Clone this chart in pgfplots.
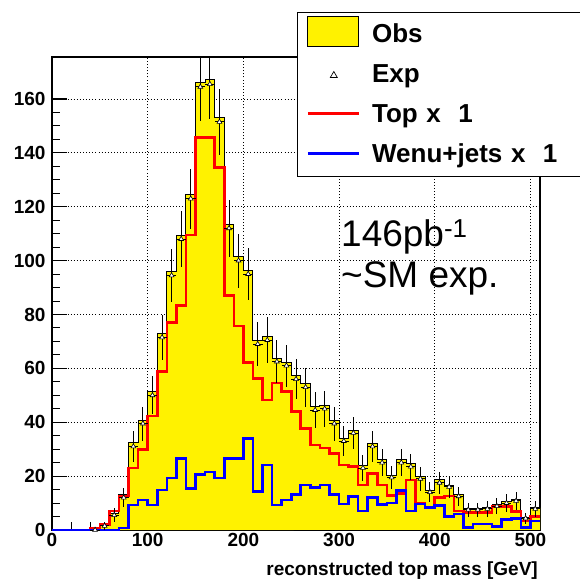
\documentclass[border=0pt]{standalone}
\usepackage{pgfplots}
\pgfplotsset{compat=1.18}
\usepackage{fontspec}
\setmainfont{Liberation Sans}
\pgfplotsset{layers/gridbelow/.define layer set={axis background,axis grid,main,axis ticks,axis lines,axis tick labels,axis descriptions,axis foreground}{}}

\pgfplotstableread{
x y
0 0
10 0
20 0
30 0
40 1
50 2
60 6.2
70 13
80 32.3
90 40.7
100 51.6
110 73
120 95.8
130 109.5
140 124.7
150 166
160 167.3
170 153
180 113.5
190 101.6
200 96.3
210 70.5
220 71.8
230 63.7
240 62.1
250 57.3
260 54.4
270 45.8
280 46.2
290 40.5
300 34
310 37.1
320 23.8
330 32.2
340 26
350 20.4
360 26.2
370 24.7
380 19.9
390 14.6
400 18.6
410 16.7
420 13
430 7.8
440 8
450 8.3
460 9.3
470 10.5
480 11.4
490 4.7
500 8.3
510 8.3
}\obstab

\pgfplotstableread{
x y
0 0
10 0
20 0
30 0
40 0.7
50 2
60 7
70 12.6
80 23
90 29.8
100 42.3
110 58.8
120 77
130 83.3
140 109.5
150 145.8
160 145.8
170 134.6
180 87
190 75.7
200 62.2
210 56.3
220 48.3
230 54.6
240 51.4
250 43.9
260 37.7
270 31.5
280 30.5
290 28.5
300 24.2
310 23.5
320 16.7
330 21
340 16.7
350 12.7
360 13.5
370 18.6
380 10
390 8.5
400 12
410 12.6
420 7
430 6.4
440 6.4
450 6.4
460 8.7
470 8.7
480 6.8
490 3.3
500 5
510 5
}\toptab

\pgfplotstableread{
x y
0 0
10 0
20 0
30 0
40 0
50 0
60 0
70 0.7
80 9.3
90 11.1
100 9.3
110 14.8
120 19.3
130 26.6
140 15.5
150 20.5
160 21.5
170 19.3
180 26.6
190 26.6
200 34
210 14.3
220 24.1
230 9.3
240 11.1
250 13.2
260 16.7
270 15.8
280 16.7
290 13.2
300 9.7
310 12.4
320 7.1
330 12.1
340 9.5
350 10
360 14.7
370 7
380 9.6
390 8.3
400 9
410 5
420 6
430 1
440 2.2
450 2.2
460 1.2
470 4
480 4.3
490 1
500 3.4
510 3.4
}\wenutab

\pgfplotstableread{
x y e
45 0 1
55 1.5 1.4
65 5.5 2.5
75 12 3.5
85 31 5.6
95 39.5 6.3
105 50 7.1
115 71.5 8.5
125 94.5 9.8
135 108 10.4
145 123 11.1
155 164.5 12.8
165 165.5 12.9
175 151.5 12.3
185 112 10.6
195 100 10
205 95 9.7
215 69 8.3
225 70.5 8.4
235 62.5 7.9
245 61 7.8
255 56 7.5
265 53 7.3
275 44.5 6.7
285 45 6.7
295 39.5 6.3
305 33 5.7
315 36 6
325 23 4.8
335 31 5.6
345 25 5
355 19.5 4.4
365 25 5
375 23.5 4.9
385 19 4.4
395 14 3.7
405 17.5 4.2
415 16 4
425 12.5 3.5
435 7.5 2.7
445 7.5 2.7
455 7.8 2.8
465 8.8 3
475 10 3.2
485 10.8 3.3
495 4.3 2.1
505 7.8 2.8
}\exptab

\begin{document}
\begin{tikzpicture}
\begin{axis}[
  set layers=gridbelow,
  at={(52pt,48pt)}, anchor=south west,
  width=488pt, height=473pt, scale only axis,
  xmin=0, xmax=510, ymin=0, ymax=175.6,
  xtick={0,100,...,500}, ytick={0,20,...,160},
  minor x tick num=4, minor y tick num=3,
  tick pos=left, tick align=inside,
  major tick length=15pt, minor tick length=8pt,
  major tick style={black, line width=1.1pt},
  minor tick style={black, line width=1pt},
  axis line style={line width=1.3pt},
  grid=major, major grid style={black, line width=0.9pt, dash pattern=on 0.9pt off 2.2pt},
  /pgf/number format/assume math mode=true,
  ticklabel style={font=\fontsize{19}{22}\selectfont\bfseries},
  yticklabel style={xshift=-3pt},
  xlabel={reconstructed top mass [GeV]},
  xlabel style={at={(axis description cs:1,0)}, anchor=base east, yshift=-45pt, xshift=-2pt, inner sep=0pt, font=\fontsize{19}{22}\selectfont\bfseries},
  legend cell align=left,
  legend style={at={(axis description cs:0,1)}, anchor=north west, xshift=245pt, yshift=45pt,
    draw=black, line width=1pt, fill=white, inner xsep=9pt, inner ysep=2pt,
    column sep=12pt, row sep=0pt,
    nodes={inner sep=0pt, text height=28pt, text depth=12pt, text width=215pt, align=left, font=\fontsize{26}{30}\selectfont\bfseries}},
]
\addplot[const plot, fill=yellow, draw=black, line width=1pt, forget plot] table[x=x,y=y] {\obstab} \closedcycle;
\addplot[const plot, red, line width=2.6pt, forget plot] table[x=x,y=y] {\toptab};
\addplot[const plot, blue, line width=2.6pt, forget plot] table[x=x,y=y] {\wenutab};
\addplot[only marks, mark=triangle*, mark size=2.8pt, mark options={fill=white, draw=black, line width=0.6pt}, forget plot,
  error bars/.cd, y dir=both, y explicit, x dir=both, x fixed=5, error mark=none,
  error bar style={black, line width=1pt}] table[x=x,y=y,y error=e] {\exptab};

\addlegendimage{legend image code/.code={\draw[fill=yellow, draw=black, line width=0.8pt] (0pt,-12pt) rectangle (51pt,18pt);}}
\addlegendentry{Obs}
\addlegendimage{legend image code/.code={\draw[fill=white, draw=black, line width=0.7pt] (22.5pt,-3pt) -- (29.5pt,-3pt) -- (26pt,3pt) -- cycle;}}
\addlegendentry{Exp}
\addlegendimage{legend image code/.code={\draw[red, line width=2.6pt] (0pt,1pt) -- (51pt,1pt);}}
\addlegendentry{Top x~~1}
\addlegendimage{legend image code/.code={\draw[blue, line width=2.6pt] (0pt,1pt) -- (51pt,1pt);}}
\addlegendentry{Wenu+jets x~~1}
\end{axis}
\node[anchor=base west, inner sep=0pt, font=\fontsize{37}{41}\selectfont] at (341pt,331pt) {146pb\textsuperscript{-1}};
\node[anchor=base west, inner sep=0pt, font=\fontsize{37}{41}\selectfont] at (341pt,290pt) {\textasciitilde SM exp.};
\pgfresetboundingbox
\useasboundingbox (0,0) rectangle (580pt,578pt);
\end{tikzpicture}
\end{document}
